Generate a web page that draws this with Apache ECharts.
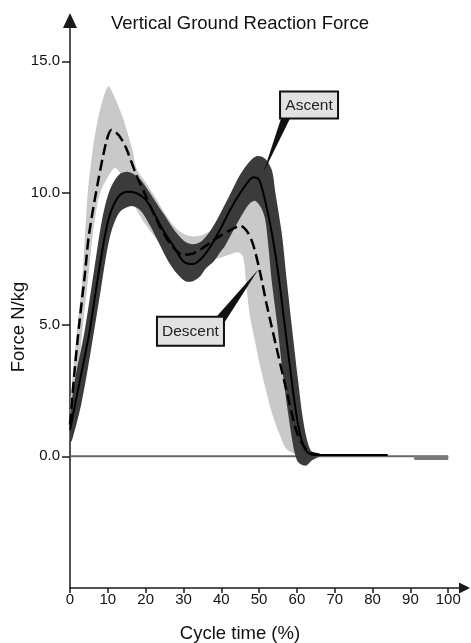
<!DOCTYPE html>
<html><head><meta charset="utf-8">
<script src="https://cdn.jsdelivr.net/npm/echarts@6/dist/echarts.min.js"></script>
<style>html,body{margin:0;padding:0;background:#fff}#c{width:471px;height:643px}</style>
</head><body><div id="c"></div>
<script>
// ---------- data ----------
const xTickValues = [0,10,20,30,40,50,60,70,80,90,100];
const yTickValues = [0,5,10,15];

// Ascent mean (solid)
const ascentT    = [0, 2.5, 5, 7.5, 10, 12.5, 15, 17.5, 20, 22.5, 25, 27.5, 30, 32.5, 35, 37.5, 40, 42.5, 45, 47.5, 48.5, 50, 51.6, 53.4, 54.8, 56.5, 58.5, 60.3, 62, 63.5, 65, 70, 75, 80, 84];
const ascentMean = [1.0, 2.8, 4.6, 6.9, 8.9, 9.8, 10.05, 10.0, 9.75, 9.15, 8.5, 7.95, 7.4, 7.3, 7.55, 8.05, 8.7, 9.4, 10.0, 10.5, 10.6, 10.5, 9.7, 8.45, 7.2, 5.3, 3.0, 1.2, 0.3, 0.08, 0.05, 0.05, 0.05, 0.05, 0.05];

// Descent mean (dashed)
const descentT    = [0, 1.25, 2.5, 4, 5, 7.5, 9.7, 11, 12.5, 13.8, 15, 17.5, 20, 22.5, 25, 27.5, 30, 32.5, 35, 37.5, 40, 42.5, 45, 47, 48.5, 50.3, 52.1, 54.8, 57.4, 60, 62, 63.5, 66];
const descentMean = [1.2, 3.3, 5.1, 7.0, 8.4, 10.5, 12.0, 12.4, 12.25, 12.0, 11.65, 10.7, 9.9, 9.1, 8.4, 7.9, 7.65, 7.7, 7.9, 8.15, 8.4, 8.6, 8.75, 8.5, 8.0, 6.95, 5.7, 4.0, 2.4, 0.9, 0.35, 0.15, 0.06];

// Ascent SD band (dark) : upper edge left->right, lower edge right->left
const ascentUpperT = [0, 1.3, 3.8, 6.3, 8.5, 10.5, 13, 15.5, 18, 20, 22.5, 25, 27.5, 30, 32.5, 35, 37.5, 40, 42.5, 45, 47.5, 49.5, 51.6, 53.4, 54.2, 56, 57.3, 58.6, 60.2, 61.5, 62.7, 64, 66];
const ascentUpperV = [1.5, 2.9, 4.7, 7.0, 9.0, 10.1, 10.7, 10.8, 10.6, 10.25, 9.7, 9.15, 8.6, 8.2, 8.05, 8.2, 8.65, 9.3, 10.0, 10.7, 11.2, 11.4, 11.3, 10.85, 10.1, 8.45, 6.7, 5.0, 3.0, 1.5, 0.6, 0.15, 0.06];
const ascentLowerT = [66, 64, 62.5, 61, 60, 59, 57.8, 56.3, 54.8, 53.3, 52.5, 51.6, 50.5, 49, 47.5, 46, 43.8, 41, 39.7, 38, 36, 34.5, 32.5, 30.5, 28.5, 26, 23.5, 21, 18.5, 16, 13, 10.5, 8, 5.5, 3, 0.5, 0];
const ascentLowerV = [0.0, -0.15, -0.35, -0.3, -0.15, 0.4, 1.5, 3.1, 5.0, 6.7, 7.9, 9.0, 9.45, 9.7, 9.6, 9.3, 8.75, 8.0, 7.75, 7.4, 7.15, 6.85, 6.65, 6.65, 6.9, 7.4, 8.1, 8.8, 9.35, 9.5, 9.25, 8.3, 6.2, 4.0, 2.0, 0.6, 0.55];

// Descent SD band (light) : upper edge left->right, lower edge right->left
const descentUpperT = [0, 1, 2, 3.2, 4, 4.8, 5.7, 6.6, 8.2, 10.1, 11.3, 12.5, 14, 16.4, 17.7, 20, 22.5, 25, 27.5, 30, 32.5, 35, 37.5, 40, 43, 46, 48.5, 51, 53, 55, 57, 59, 61, 63, 65];
const descentUpperV = [1.8, 3.5, 5.0, 6.7, 8.5, 10.2, 11.3, 12.2, 13.3, 14.05, 13.8, 13.4, 12.85, 11.7, 10.9, 10.4, 9.85, 9.25, 8.75, 8.45, 8.35, 8.4, 8.6, 9.0, 9.6, 10.0, 10.1, 9.6, 8.6, 6.8, 4.6, 2.5, 0.9, 0.25, 0.05];
const descentLowerT = [65, 61, 57.4, 55.5, 53.7, 52, 50.3, 49, 47.6, 46.6, 45.8, 44.5, 42, 40, 37, 33, 30, 25, 20, 17.5, 15, 13.5, 11.9, 10.6, 9.6, 8.5, 7.4, 6, 5, 3.5, 2.25, 1, 0];
const descentLowerV = [0.0, 0.05, 0.25, 0.8, 1.5, 2.4, 3.4, 4.3, 5.3, 6.5, 7.55, 7.75, 7.65, 7.55, 7.45, 7.2, 7.3, 7.9, 8.8, 9.4, 10.2, 10.7, 10.95, 10.75, 10.5, 10.2, 9.7, 8.4, 7.0, 5.1, 3.3, 1.7, 0.6];

// baseline and tail
const zeroT = [0, 100];
const zeroV = [0, 0];
const tailT = [91, 100];
const tailV = [-0.06, -0.06];

// ---------- chart ----------
const FONT = '"Liberation Sans", Arial, Helvetica, sans-serif';
const pairs = (T, V) => T.map((t, i) => [t, V[i]]);

function band(name, upT, upV, loT, loV, color, z) {
  return {
    type: 'custom', name, z, silent: true, clip: false,
    data: pairs(upT, upV).concat(pairs(loT, loV)),
    encode: { x: 0, y: 1 },
    renderItem(params, api) {
      if (params.dataIndexInside !== 0) return null;
      const n = params.dataInsideLength;
      const pts = [];
      for (let i = 0; i < n; i++) pts.push(api.coord([api.value(0, i), api.value(1, i)]));
      return { type: 'polygon', shape: { points: pts, smooth: 0.3 }, style: { fill: color } };
    }
  };
}

const chart = echarts.init(document.getElementById('c'), null, { renderer: 'canvas' });
chart.setOption({
  backgroundColor: '#fff',
  animation: false,
  grid: { left: 70, right: 6.5, top: 20.5, bottom: 55, containLabel: false },
  xAxis: {
    type: 'value', min: 0, max: 104.3, interval: 10,
    axisLine: { onZero: false, lineStyle: { color: '#1a1a1a', width: 1.5 }, symbol: ['none', 'triangle'], symbolSize: [11, 11] },
    axisTick: { show: true, length: 5, lineStyle: { color: '#1a1a1a', width: 1.5 }, customValues: xTickValues },
    axisLabel: { margin: 4, color: '#111', fontSize: 15, fontFamily: FONT, customValues: xTickValues,
      formatter: v => (v <= 100 ? String(v) : '') },
    splitLine: { show: false }
  },
  yAxis: {
    type: 'value', min: -5, max: 16.55, interval: 5,
    axisLine: { onZero: false, lineStyle: { color: '#1a1a1a', width: 1.5 }, symbol: ['none', 'triangle'], symbolSize: [14, 15] },
    axisTick: { show: true, length: 8, lineStyle: { color: '#1a1a1a', width: 1.5 }, customValues: yTickValues },
    axisLabel: { margin: 10, color: '#111', fontSize: 15, fontFamily: FONT, customValues: yTickValues,
      formatter: v => (v >= 0 && v <= 15 ? v.toFixed(1) : '') },
    splitLine: { show: false }
  },
  series: [
    { type: 'line', name: 'zero', data: pairs(zeroT, zeroV), symbol: 'none', z: 1, silent: true,
      lineStyle: { color: '#666', width: 2 } },
    band('Descent SD', descentUpperT, descentUpperV, descentLowerT, descentLowerV, '#c9c9c9', 2),
    band('Ascent SD', ascentUpperT, ascentUpperV, ascentLowerT, ascentLowerV, '#3b3b3b', 3),
    { type: 'line', name: 'tail', data: pairs(tailT, tailV), symbol: 'none', z: 3, silent: true,
      lineStyle: { color: '#7a7a7a', width: 4 } },
    { type: 'line', name: 'Descent', data: pairs(descentT, descentMean), symbol: 'none', smooth: 0.3, z: 4, silent: true,
      lineStyle: { color: '#000', width: 2.5, type: [11, 5] } },
    { type: 'line', name: 'Ascent', data: pairs(ascentT, ascentMean), symbol: 'none', smooth: 0.3, z: 5, silent: true,
      lineStyle: { color: '#000', width: 2 } }
  ]
});

// annotations anchored in data coordinates
const notes = [
  { text: 'Ascent', at: [63.2, 13.34], tip: [51.1, 10.77], w: 58, h: 27, base: [[-28, 13.5], [-19, 13.5]] },
  { text: 'Descent', at: [31.85, 4.75], tip: [49.8, 7.09], w: 67, h: 29, base: [[26, -14.5], [33.5, -8]] }
];
const g = [];
notes.forEach(n => {
  const c = chart.convertToPixel({ gridIndex: 0 }, n.at);
  const tp = chart.convertToPixel({ gridIndex: 0 }, n.tip);
  g.push({ type: 'polygon', z: 10, shape: { points: [tp, [c[0] + n.base[0][0], c[1] + n.base[0][1]], [c[0] + n.base[1][0], c[1] + n.base[1][1]]] },
    style: { fill: '#111' } });
  g.push({ type: 'rect', z: 11, shape: { x: c[0] - n.w / 2, y: c[1] - n.h / 2, width: n.w, height: n.h },
    style: { fill: '#e2e2e2', stroke: '#111', lineWidth: 2 } });
  g.push({ type: 'text', z: 12, x: c[0], y: c[1] + 0.5,
    style: { text: n.text, fill: '#222', font: '15.5px ' + FONT, align: 'center', verticalAlign: 'middle' } });
});
g.push({ type: 'text', z: 12, x: 240, y: 24,
  style: { text: 'Vertical Ground Reaction Force', fill: '#111', font: '18.5px ' + FONT, align: 'center', verticalAlign: 'middle' } });
g.push({ type: 'text', z: 12, x: 240, y: 634,
  style: { text: 'Cycle time (%)', fill: '#111', font: '18.5px ' + FONT, align: 'center', verticalAlign: 'middle' } });
g.push({ type: 'text', z: 12, x: 19, y: 327, rotation: Math.PI / 2,
  style: { text: 'Force N/kg', fill: '#111', font: '18.5px ' + FONT, align: 'center', verticalAlign: 'middle' } });
chart.setOption({ graphic: g });
</script>
</body></html>
